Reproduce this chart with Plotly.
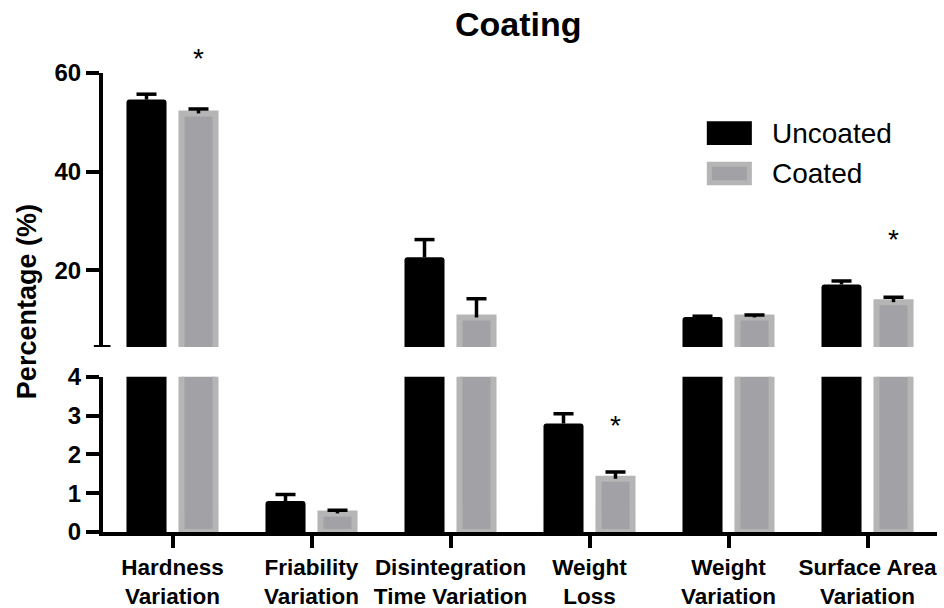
import plotly.graph_objects as go

# ---- data -------------------------------------------------------------
categories = [
    "Hardness<br>Variation",
    "Friability<br>Variation",
    "Disintegration<br>Time Variation",
    "Weight<br>Loss",
    "Weight<br>Variation",
    "Surface Area<br>Variation",
]
uncoated = [54.6, 0.80, 22.6, 2.80, 10.5, 17.1]
uncoated_err = [1.1, 0.17, 3.6, 0.25, 0.15, 0.7]
coated = [51.8, 0.48, 10.4, 1.37, 10.4, 13.5]
coated_err = [0.9, 0.08, 3.8, 0.18, 0.5, 1.0]

# significance markers: (category index, height in %)
stars = [(0, 63.0), (3, 2.75), (5, 26.2)]

lower_ticks = [0, 1, 2, 3, 4]
upper_ticks = [20, 40, 60]
lower_range = [0, 4]
upper_range = [4.4, 60]
lower_domain = [0, 0.338]
upper_domain = [0.403, 1]

FONT = "Liberation Sans, Arial, Helvetica, sans-serif"
BLACK = "#000000"
GREY_FILL = "#a2a2a6"
GREY_EDGE = "#b5b5b5"

SHIFT = 0.187      # bar centre offset from the category position
CAP = 0.072        # half-width of the error-bar cap, in category units

positions = list(range(len(categories)))
x_unc = [p - SHIFT for p in positions]
x_coa = [p + SHIFT for p in positions]


def whiskers(xs, vals, errs):
    """Upper-only error bars as a single line path: stem + cap."""
    px, py = [], []
    for x, v, e in zip(xs, vals, errs):
        px += [x, x, None, x - CAP, x + CAP, None]
        py += [v, v + e, None, v + e, v + e, None]
    return px, py


fig = go.Figure()

# each series is drawn in both segments of the broken axis
for xa, ya in [("x", "y"), ("x2", "y2")]:
    fig.add_trace(go.Bar(
        x=x_unc, y=uncoated, name="Uncoated", xaxis=xa, yaxis=ya,
        width=0.288,
        marker=dict(color=BLACK, line=dict(width=0), cornerradius=3),
        showlegend=False,
    ))
    fig.add_trace(go.Bar(
        x=x_coa, y=coated, name="Coated", xaxis=xa, yaxis=ya,
        width=0.245,
        marker=dict(color=GREY_FILL, line=dict(width=6, color=GREY_EDGE)),
        showlegend=False,
    ))
    for xs, vals, errs in [(x_unc, uncoated, uncoated_err), (x_coa, coated, coated_err)]:
        wx, wy = whiskers(xs, vals, errs)
        fig.add_trace(go.Scatter(
            x=wx, y=wy, xaxis=xa, yaxis=ya, mode="lines",
            line=dict(color=BLACK, width=3.5), hoverinfo="skip", showlegend=False,
        ))


def to_paper(v):
    """Map a percentage onto the paper fraction of the broken axis."""
    if v <= lower_range[1]:
        r, d = lower_range, lower_domain
    else:
        r, d = upper_range, upper_domain
    return d[0] + (v - r[0]) / (r[1] - r[0]) * (d[1] - d[0])


annotations = []
for idx, level in stars:
    annotations.append(dict(
        x=idx + SHIFT, y=to_paper(level), xref="x", yref="paper",
        xanchor="center", yanchor="middle",
        text="*", showarrow=False, font=dict(family=FONT, size=28, color=BLACK),
    ))

# y-axis title spanning both segments
annotations.append(dict(
    x=-0.091, y=0.501, xref="paper", yref="paper", text="<b>Percentage (%)</b>",
    xanchor="center", yanchor="middle",
    textangle=-90, showarrow=False, font=dict(family=FONT, size=27, color=BLACK),
))

# legend
legend_font = dict(family=FONT, size=28, color=BLACK)
annotations.append(dict(
    x=0.800, y=0.869, xref="paper", yref="paper", text="Uncoated",
    xanchor="left", yanchor="middle", showarrow=False, font=legend_font,
))
annotations.append(dict(
    x=0.800, y=0.782, xref="paper", yref="paper", text="Coated",
    xanchor="left", yanchor="middle", showarrow=False, font=legend_font,
))

shapes = [
    dict(type="rect", xref="paper", yref="paper", x0=0.724, x1=0.778, y0=0.843, y1=0.895,
         fillcolor=BLACK, line=dict(width=0)),
    dict(type="rect", xref="paper", yref="paper", x0=0.727, x1=0.775, y0=0.761, y1=0.801,
         fillcolor=GREY_FILL, line=dict(width=5, color=GREY_EDGE)),
    # end cap of the upper axis segment
    dict(type="line", xref="paper", yref="y2", x0=-0.011, x1=0.009,
         y0=upper_range[0], y1=upper_range[0], line=dict(width=4, color=BLACK)),
]

tick_font = dict(family=FONT, size=24, color=BLACK)

fig.update_layout(
    width=944, height=608,
    margin=dict(l=103, r=7, t=73, b=76, autoexpand=False),
    paper_bgcolor="white", plot_bgcolor="white",
    barmode="overlay",
    title=dict(text="<b>Coating</b>", x=0.549, y=0.960, xanchor="center", yanchor="middle",
               font=dict(family=FONT, size=34, color=BLACK)),
    xaxis=dict(
        domain=[0, 1], anchor="y", range=[-0.5, len(categories) - 0.5],
        tickvals=positions, ticktext=[f"<b>{c}</b>" for c in categories],
        showline=True, linewidth=4, linecolor=BLACK,
        ticks="outside", ticklen=12, tickwidth=4, tickcolor=BLACK,
        tickfont=dict(family=FONT, size=22.5, color=BLACK),
        showgrid=False, zeroline=False, automargin=False,
    ),
    xaxis2=dict(domain=[0, 1], anchor="y2", matches="x", visible=False),
    yaxis=dict(
        domain=lower_domain, range=lower_range, anchor="x",
        tickvals=lower_ticks, ticktext=[f"<b>{v}</b>" for v in lower_ticks],
        showline=True, linewidth=4, linecolor=BLACK,
        ticks="outside", ticklen=13, tickwidth=4, tickcolor=BLACK,
        tickfont=tick_font, showgrid=False, zeroline=False, automargin=False,
    ),
    yaxis2=dict(
        domain=upper_domain, range=upper_range, anchor="x2",
        tickvals=upper_ticks, ticktext=[f"<b>{v}</b>" for v in upper_ticks],
        showline=True, linewidth=4, linecolor=BLACK,
        ticks="outside", ticklen=13, tickwidth=4, tickcolor=BLACK,
        tickfont=tick_font, showgrid=False, zeroline=False, automargin=False,
    ),
    annotations=annotations,
    shapes=shapes,
    showlegend=False,
)

fig.write_html("out.html")
